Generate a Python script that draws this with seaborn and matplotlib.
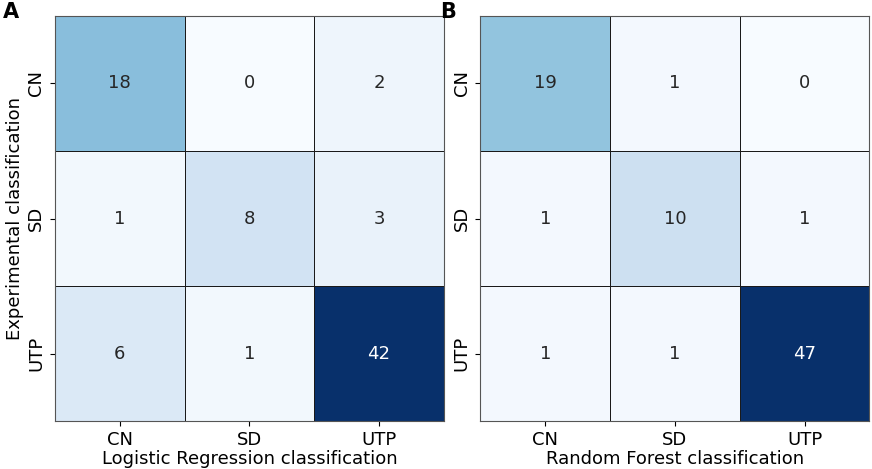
import numpy as np
import matplotlib
matplotlib.use("Agg")
import matplotlib.pyplot as plt
import seaborn as sns

classes = ["CN", "SD", "UTP"]
lr_counts = [[18, 0, 2],
             [1, 8, 3],
             [6, 1, 42]]
rf_counts = [[19, 1, 0],
             [1, 10, 1],
             [1, 1, 47]]

fig = plt.figure(figsize=(8.72, 4.69), dpi=100)
ax1 = fig.add_axes([0.063, 0.102, 0.446, 0.864])
ax2 = fig.add_axes([0.551, 0.102, 0.446, 0.864])

panels = [(ax1, lr_counts, "Logistic Regression classification"),
          (ax2, rf_counts, "Random Forest classification")]

for ax, counts, xlabel in panels:
    sns.heatmap(np.array(counts), ax=ax, cmap="Blues", annot=True, fmt="d",
                cbar=False, linewidths=0.6, linecolor="#1a1a1a",
                xticklabels=classes, yticklabels=classes,
                annot_kws={"fontsize": 13})
    ax.set_xlabel(xlabel, fontsize=13, labelpad=1)
    ax.tick_params(labelsize=13)
    plt.setp(ax.get_yticklabels(), rotation=90, va="center")
    for s in ax.spines.values():
        s.set_visible(True)
        s.set_color("#555555")
        s.set_linewidth(0.8)

ax1.set_ylabel("Experimental classification", fontsize=13, labelpad=2)
fig.text(0.003, 0.995, "A", fontsize=15, fontweight="bold", va="top")
fig.text(0.505, 0.995, "B", fontsize=15, fontweight="bold", va="top")

fig.savefig("out.png", dpi=100)
